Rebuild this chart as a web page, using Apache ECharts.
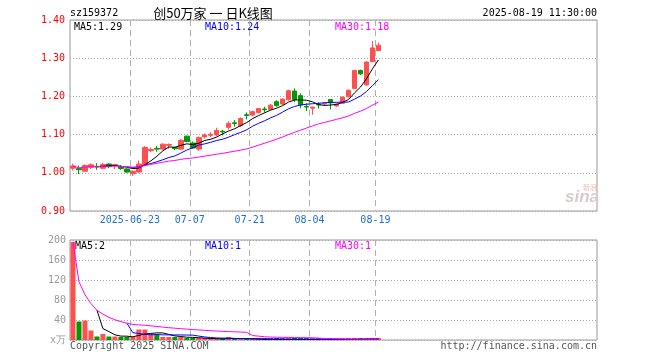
<!DOCTYPE html>
<html>
<head>
<meta charset="utf-8">
<script src="https://cdn.jsdelivr.net/npm/echarts@6/dist/echarts.min.js"></script>
<style>html,body{margin:0;padding:0;background:#fff;}#c{width:660px;height:360px;}</style>
</head>
<body>
<div id="c"></div>
<script>
// ---- data ----
const dates = [
 '2025-06-09','2025-06-10','2025-06-11','2025-06-12','2025-06-13',
 '2025-06-16','2025-06-17','2025-06-18','2025-06-19','2025-06-20',
 '2025-06-23','2025-06-24','2025-06-25','2025-06-26','2025-06-27',
 '2025-06-30','2025-07-01','2025-07-02','2025-07-03','2025-07-04',
 '2025-07-07','2025-07-08','2025-07-09','2025-07-10','2025-07-11',
 '2025-07-14','2025-07-15','2025-07-16','2025-07-17','2025-07-18',
 '2025-07-21','2025-07-22','2025-07-23','2025-07-24','2025-07-25',
 '2025-07-28','2025-07-29','2025-07-30','2025-07-31','2025-08-01',
 '2025-08-04','2025-08-05','2025-08-06','2025-08-07','2025-08-08',
 '2025-08-11','2025-08-12','2025-08-13','2025-08-14','2025-08-15',
 '2025-08-18','2025-08-19'];
const opens  = [1.012,1.011,1.004,1.014,1.017,1.012,1.023,1.021,1.015,1.010,
                0.998,1.002,1.021,1.058,1.064,1.062,1.072,1.066,1.062,1.096,
                1.078,1.062,1.094,1.098,1.099,1.109,1.119,1.131,1.123,1.152,
                1.151,1.158,1.167,1.166,1.186,1.180,1.191,1.214,1.202,1.174,
                1.169,1.180,1.180,1.192,1.175,1.182,1.199,1.221,1.268,1.230,
                1.291,1.320];
const closes = [1.018,1.008,1.019,1.021,1.015,1.022,1.016,1.022,1.011,1.002,
                1.004,1.023,1.066,1.061,1.062,1.075,1.074,1.063,1.085,1.082,
                1.065,1.092,1.099,1.101,1.111,1.107,1.129,1.129,1.142,1.150,
                1.160,1.168,1.165,1.177,1.176,1.193,1.215,1.192,1.178,1.172,
                1.172,1.178,1.182,1.183,1.180,1.198,1.216,1.268,1.259,1.290,
                1.327,1.334];
const lows   = [1.006,0.997,1.003,1.010,1.008,1.010,1.012,1.010,1.008,1.000,
                0.992,1.000,1.020,1.054,1.055,1.060,1.063,1.060,1.060,1.080,
                1.063,1.058,1.090,1.094,1.096,1.098,1.113,1.121,1.120,1.140,
                1.148,1.155,1.158,1.164,1.173,1.177,1.189,1.185,1.169,1.162,
                1.152,1.168,1.176,1.166,1.173,1.180,1.197,1.219,1.256,1.228,
                1.289,1.318];
const highs  = [1.024,1.019,1.022,1.025,1.025,1.026,1.025,1.023,1.020,1.012,
                1.006,1.032,1.070,1.066,1.070,1.077,1.077,1.068,1.088,1.097,
                1.082,1.095,1.103,1.106,1.118,1.112,1.135,1.138,1.145,1.158,
                1.163,1.170,1.173,1.180,1.190,1.195,1.217,1.221,1.208,1.182,
                1.173,1.185,1.185,1.193,1.182,1.200,1.218,1.270,1.270,1.292,
                1.345,1.341];
const volumes = [196,37,39,19,7,12,7,7,6,6,
                 6,21,21,12,11,6,6,6,6,4,
                 4,3,2,2,2,2,6,2,2,1.5,
                 1.5,1.2,1.2,1,1,1.2,1.5,1.5,1.2,1,
                 1,1,0.8,0.8,0.8,1,1.5,2,1.5,2.5,
                 3,2.5];
const tickDates  = ['2025-06-23','2025-07-07','2025-07-21','2025-08-04','2025-08-19'];
const tickLabels = ['2025-06-23','07-07','07-21','08-04','08-19'];
const priceLegend = ['MA5:1.29','MA10:1.24','MA30:1.18'];
const volLegend   = ['MA5:2','MA10:1','MA30:1'];
const slotCount = 88;

// ---- helpers ----
function ma(arr, n, expanding) {
  return arr.map((v, i) => {
    if (i < n - 1 && !expanding) return '-';
    const s = Math.max(0, i - n + 1);
    let sum = 0;
    for (let k = s; k <= i; k++) sum += arr[k];
    return +(sum / (i - s + 1)).toFixed(4);
  });
}
const RED = '#ff5050', GREEN = '#009900';
const slotData = [];
for (let i = 0; i < slotCount; i++) slotData.push(i < dates.length ? dates[i] : 'pad' + i);
const boundData = [];
for (let i = 0; i <= slotCount; i++) boundData.push('b' + i);
const tickIdx = tickDates.map(d => dates.indexOf(d));
const tickSet = new Set(tickIdx);
const labelAt = {};
tickIdx.forEach((b, k) => labelAt['b' + b] = tickLabels[k]);

const kData = dates.map((d, i) => [opens[i], closes[i], lows[i], highs[i]]);
const volData = volumes.map((v, i) => ({
  value: v,
  itemStyle: { color: closes[i] >= opens[i] ? RED : GREEN }
}));

const MONO = '"DejaVu Sans Mono", "Liberation Mono", monospace';
const dashV = { show: true, interval: (idx) => tickSet.has(idx),
  lineStyle: { color: '#b0b0b0', width: 1, type: [6, 4] } };

const chart = echarts.init(document.getElementById('c'), null, { renderer: 'canvas' });
chart.setOption({
  animation: false,
  backgroundColor: '#fff',
  grid: [
    { left: 70, top: 20, width: 527, height: 191, show: true, borderColor: '#999', borderWidth: 1, backgroundColor: 'transparent' },
    { left: 70, top: 240, width: 527, height: 100, show: true, borderColor: '#999', borderWidth: 1, backgroundColor: 'transparent' }
  ],
  xAxis: [
    { type: 'category', gridIndex: 0, position: 'bottom', data: slotData, boundaryGap: true, show: false },
    { type: 'category', gridIndex: 0, position: 'bottom', data: boundData, boundaryGap: false,
      axisLine: { show: false }, axisTick: { show: false },
      axisLabel: { show: true, interval: (idx) => tickSet.has(idx), margin: 4,
        formatter: (v) => labelAt[v] || '', color: '#1f6fd0', fontSize: 10, fontFamily: MONO },
      splitLine: dashV },
    { type: 'category', gridIndex: 1, position: 'bottom', data: slotData, boundaryGap: true, show: false },
    { type: 'category', gridIndex: 1, position: 'bottom', data: boundData, boundaryGap: false,
      axisLine: { show: false }, axisTick: { show: false }, axisLabel: { show: false },
      splitLine: dashV }
  ],
  yAxis: [
    { type: 'value', gridIndex: 0, min: 0.9, max: 1.4, interval: 0.1, position: 'left',
      axisLine: { show: false }, axisTick: { show: false },
      axisLabel: { formatter: (v) => v.toFixed(2), color: '#ff0000', fontSize: 10, fontFamily: MONO, margin: 5 },
      splitLine: { show: true, lineStyle: { color: '#a8a8a8', width: 1, type: [1, 2] } } },
    { type: 'value', gridIndex: 1, min: 0, max: 200, interval: 40, position: 'left',
      axisLine: { show: false }, axisTick: { show: false },
      axisLabel: { formatter: (v) => v === 0 ? 'x万' : String(v), color: '#999', fontSize: 10, fontFamily: MONO, margin: 4 },
      splitLine: { show: true, lineStyle: { color: '#a8a8a8', width: 1, type: [1, 2] } } }
  ],
  series: [
    { type: 'candlestick', xAxisIndex: 0, yAxisIndex: 0, data: kData, barWidth: 5,
      itemStyle: { color: RED, color0: GREEN, borderColor: RED, borderColor0: GREEN, borderWidth: 1 } },
    { type: 'line', xAxisIndex: 0, yAxisIndex: 0, data: ma(closes, 5, false), symbol: 'none',
      lineStyle: { color: '#000', width: 1 } },
    { type: 'line', xAxisIndex: 0, yAxisIndex: 0, data: ma(closes, 10, false), symbol: 'none',
      lineStyle: { color: '#0000ff', width: 1 } },
    { type: 'line', xAxisIndex: 0, yAxisIndex: 0, data: ma(closes, 30, true), symbol: 'none',
      lineStyle: { color: '#ff00ff', width: 1 } },
    { type: 'bar', xAxisIndex: 2, yAxisIndex: 1, data: volData, barWidth: 5, barMinHeight: 2 },
    { type: 'line', xAxisIndex: 2, yAxisIndex: 1, data: ma(volumes, 5, false), symbol: 'none',
      lineStyle: { color: '#000', width: 1 } },
    { type: 'line', xAxisIndex: 2, yAxisIndex: 1, data: ma(volumes, 10, false), symbol: 'none',
      lineStyle: { color: '#0000ff', width: 1 } },
    { type: 'line', xAxisIndex: 2, yAxisIndex: 1, data: ma(volumes, 30, true), symbol: 'none',
      lineStyle: { color: '#ff00ff', width: 1 } }
  ],
  graphic: [
    { type: 'text', x: 70, y: 13, style: { text: 'sz159372', fill: '#000', fontSize: 10, fontFamily: MONO, verticalAlign: 'middle' } },
    { type: 'text', x: 213, y: 13, style: { text: '创50万家 一 日K线图', fill: '#000', fontSize: 13, fontFamily: '"Noto Sans CJK SC"', align: 'center', verticalAlign: 'middle' } },
    { type: 'text', x: 597, y: 13, style: { text: '2025-08-19 11:30:00', fill: '#000', fontSize: 10, fontFamily: MONO, align: 'right', verticalAlign: 'middle' } },
    { type: 'text', x: 74, y: 27, style: { text: priceLegend[0], fill: '#000', fontSize: 10, fontFamily: MONO, verticalAlign: 'middle' } },
    { type: 'text', x: 205, y: 27, style: { text: priceLegend[1], fill: '#0000ff', fontSize: 10, fontFamily: MONO, verticalAlign: 'middle' } },
    { type: 'text', x: 335, y: 27, style: { text: priceLegend[2], fill: '#ff00ff', fontSize: 10, fontFamily: MONO, verticalAlign: 'middle' } },
    { type: 'text', x: 75, y: 246, style: { text: volLegend[0], fill: '#000', fontSize: 10, fontFamily: MONO, verticalAlign: 'middle' } },
    { type: 'text', x: 205, y: 246, style: { text: volLegend[1], fill: '#0000ff', fontSize: 10, fontFamily: MONO, verticalAlign: 'middle' } },
    { type: 'text', x: 335, y: 246, style: { text: volLegend[2], fill: '#ff00ff', fontSize: 10, fontFamily: MONO, verticalAlign: 'middle' } },
    { type: 'text', x: 70, y: 346, style: { text: 'Copyright 2025 SINA.COM', fill: '#555', fontSize: 10, fontFamily: MONO, verticalAlign: 'middle' } },
    { type: 'text', x: 597, y: 346, style: { text: 'http://finance.sina.com.cn', fill: '#555', fontSize: 10, fontFamily: MONO, align: 'right', verticalAlign: 'middle' } },
    { type: 'text', x: 582, y: 197, style: { text: 'sina', fill: '#dccaca', fontSize: 17, fontStyle: 'italic', fontWeight: 'bold', fontFamily: 'Liberation Sans', align: 'center', verticalAlign: 'middle' } },
    { type: 'text', x: 590, y: 187, style: { text: '新浪', fill: '#ecc0c0', fontSize: 7, fontFamily: '"Noto Sans CJK SC"', align: 'center', verticalAlign: 'middle' } }
  ]
});
</script>
</body>
</html>
